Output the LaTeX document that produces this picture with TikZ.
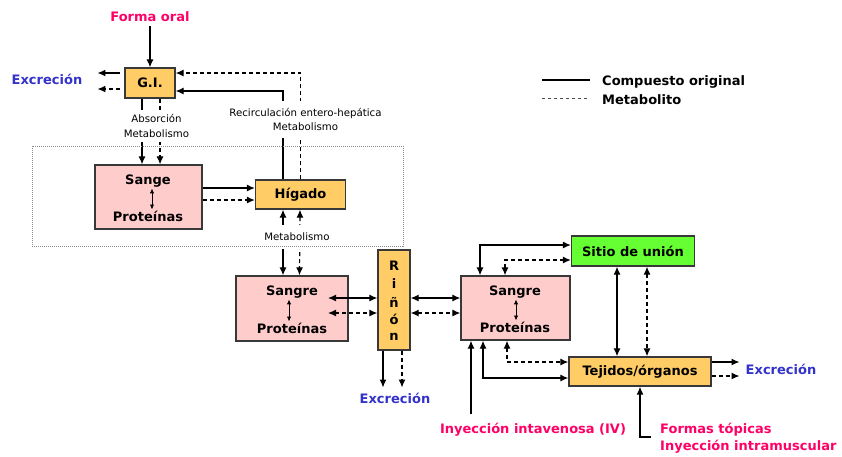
\documentclass[tikz,border=0pt]{standalone}
\usepackage{fontspec}
\setmainfont{DejaVu Sans}
\usetikzlibrary{positioning,calc,arrows.meta}

\definecolor{naranja}{HTML}{FFCC66}
\definecolor{rosa}{HTML}{FFCCCC}
\definecolor{verde}{HTML}{66FF33}
\definecolor{fucsia}{HTML}{FF0066}
\definecolor{azul}{HTML}{3333CC}
\definecolor{borde}{HTML}{383838}

\tikzset{
	caja/.style={draw=borde, line width=1.3pt, inner sep=0pt, font=\fontsize{13}{15}\selectfont\bfseries},
	texto/.style={font=\fontsize{13}{15}\selectfont\bfseries, inner sep=2pt},
	flecha/.style={line width=1.2pt, -{Latex[length=8pt,width=7pt]}},
	doble/.style={line width=1.2pt, {Latex[length=8pt,width=7pt]}-{Latex[length=8pt,width=7pt]}},
	mini/.style={line width=0.9pt, {Latex[length=5pt,width=4.5pt]}-{Latex[length=5pt,width=4.5pt]}},
	meta/.style={dash pattern=on 4pt off 3pt},
	rotulo/.style={font=\fontsize{10.2}{14.5}\selectfont, fill=white, inner xsep=1pt, align=center},
}

\begin{document}
\begin{tikzpicture}[x=1pt,y=-1pt]
	\useasboundingbox (0,0) rectangle (842,456);
	% leyenda
	\coordinate (L1) at (542,80);   \coordinate (L2) at (590,80);
	\coordinate (L3) at (542,98);   \coordinate (L4) at (588,98);
	\draw[line width=1.1pt] (L1) -- (L2);
	\draw[line width=0.8pt, black!70, dash pattern=on 3pt off 3pt] (L3) -- (L4);
	\node[texto, anchor=west] (leg1) at (600,82) {Compuesto original};
	\node[texto, anchor=west] (leg2) at (600,100) {Metabolito};
	% cajas
	\node[caja, fill=naranja, minimum width=50pt, minimum height=30pt] (gi) at (150,83) {G.I.};
	\node[caja, fill=rosa, minimum width=107pt, minimum height=64pt] (s1) at (148.5,197) {};
	\node[caja, fill=naranja, minimum width=90pt, minimum height=29pt] (hig) at (300.5,194.5) {Hígado};
	\node[caja, fill=rosa, minimum width=112pt, minimum height=65pt] (s2) at (292,308.5) {};
	\node[caja, fill=naranja, minimum width=32pt, minimum height=100pt] (rin) at (394,300) {};
	\node[caja, fill=rosa, minimum width=109pt, minimum height=64pt] (s3) at (515.5,308) {};
	\node[caja, fill=verde, minimum width=123pt, minimum height=30pt] (sitio) at (633,251) {Sitio de unión};
	\node[caja, fill=naranja, minimum width=142pt, minimum height=29pt] (tej) at (640,371.5) {Tejidos/órganos};
	% textos
	\node[texto] (s1a) at (148,181) {Sange};
	\node[texto] (s1b) at (148,216) {Proteínas};
	\node[texto] (s2a) at (292,292) {Sangre};
	\node[texto] (s2b) at (292,328) {Proteínas};
	\node[texto] (s3a) at (515,292) {Sangre};
	\node[texto] (s3b) at (515,327) {Proteínas};
	\foreach \letra/\yy in {R/266, i/284, ñ/302, ó/319, n/337}
		\node[texto] (letra\yy) at (394,\yy) {\letra};
	\draw[mini] ($(s1a.south)+(4,-1)$) -- ($(s1b.north)+(4,1)$);
	\draw[mini] ($(s2a.south)+(-3,-1)$) -- ($(s2b.north)+(-3,1)$);
	\draw[mini] ($(s3a.south)+(1,-1)$) -- ($(s3b.north)+(1,1)$);
	\node[texto, text=fucsia] (oral) at (150,17) {Forma oral};
	\node[texto, text=azul] (exc1) at (47,79) {Excreción};
	\node[texto, text=azul] (exc2) at (395,398) {Excreción};
	\node[texto, text=azul] (exc3) at (781,369) {Excreción};
	\node[texto, text=fucsia] (iv) at (533,430) {Inyección intavenosa (IV)};
	\node[texto, text=fucsia, anchor=west, align=left, font=\fontsize{13}{17}\selectfont\bfseries] (topic) at (658,438.5) {Formas tópicas\\Inyección intramuscular};
	% flechas
	\draw[flecha, shorten <=2pt] (oral.south) -- (gi.north);
	\draw[flecha] ($(gi.west)+(-4,-10)$) -- ($(exc1.east)+(13,-6)$);
	\draw[flecha, meta] ($(gi.west)+(-4,6)$) -- ($(exc1.east)+(13,10)$);
	\draw[flecha] ($(hig.north)+(-17.5,0)$) |- ($(gi.east)+(0,8)$);
	\draw[flecha, meta] (hig.north) |- ($(gi.east)+(0,-10)$);
	\draw[flecha] ($(gi.south)+(-8,0)$) -- ($(s1.north)+(-6.5,0)$);
	\draw[flecha, meta] ($(gi.south)+(10,0)$) -- ($(s1.north)+(11.5,0)$);
	\draw[flecha] ($(s1.east)+(0,-9)$) -- ($(hig.west)+(0,-6.5)$);
	\draw[flecha, meta] ($(s1.east)+(0,3)$) -- ($(hig.west)+(0,5.5)$);
	\draw[doble] ($(hig.south)+(-17.5,0)$) -- ($(s2.north)+(-9,0)$);
	\draw[doble, meta] ($(hig.south)+(-0.5,0)$) -- ($(s2.north)+(7.5,0)$);
	\draw[doble] ($(s2.center)+(36,-10.5)$) -- ($(rin.west)+(0,-2)$);
	\draw[doble, meta] ($(s2.center)+(36,4.5)$) -- ($(rin.west)+(0,13)$);
	\draw[flecha] ($(rin.south)+(-11,0)$) -- ($(exc2.north)+(-12,-3)$);
	\draw[flecha, meta] ($(rin.south)+(8,0)$) -- ($(exc2.north)+(7,-3)$);
	\draw[doble] ($(rin.east)+(0,-2)$) -- ($(s3.west)+(0,-10)$);
	\draw[doble, meta] ($(rin.east)+(0,13)$) -- ($(s3.west)+(0,5)$);
	\draw[doble] ($(s3.north)+(-35.5,0)$) |- ($(sitio.west)+(0,-6)$);
	\draw[doble, meta] ($(s3.north)+(-10.5,0)$) |- ($(sitio.west)+(0,9)$);
	\draw[doble] ($(sitio.south)+(-16,0)$) -- ($(tej.north)+(-23,0)$);
	\draw[doble, meta] ($(sitio.south)+(14,0)$) -- ($(tej.north)+(7,0)$);
	\draw[doble] ($(s3.south)+(-32.5,0)$) |- ($(tej.west)+(0,6.5)$);
	\draw[doble, meta] ($(s3.south)+(-8.5,0)$) |- ($(tej.west)+(0,-9.5)$);
	\coordinate (ivp) at (471,414);
	\draw[flecha] (ivp) -- (ivp |- s3.south);
	\coordinate (ftp) at (651,437);
	\draw[flecha] (ftp) -| (tej.south);
	\draw[flecha] ($(tej.east)+(0,-9.5)$) -- ($(exc3.west)+(-4,-7)$);
	\draw[flecha, meta] ($(tej.east)+(0,4.5)$) -- ($(exc3.west)+(-4,7)$);
	% rotulos
	\node[rotulo, inner ysep=5pt] (absor) at (156.5,126) {Absorción\\Metabolismo};
	\node[rotulo, inner ysep=7pt] (recirc) at (305.5,119.5) {Recirculación entero-hepática\\Metabolismo};
	\node[rotulo, inner ysep=8pt] (metab) at (297,237) {Metabolismo};
	% recuadro punteado
	\draw[black!45, line width=1pt, dash pattern=on 1pt off 1pt] (32,146) rectangle (403,246);
\end{tikzpicture}
\end{document}
